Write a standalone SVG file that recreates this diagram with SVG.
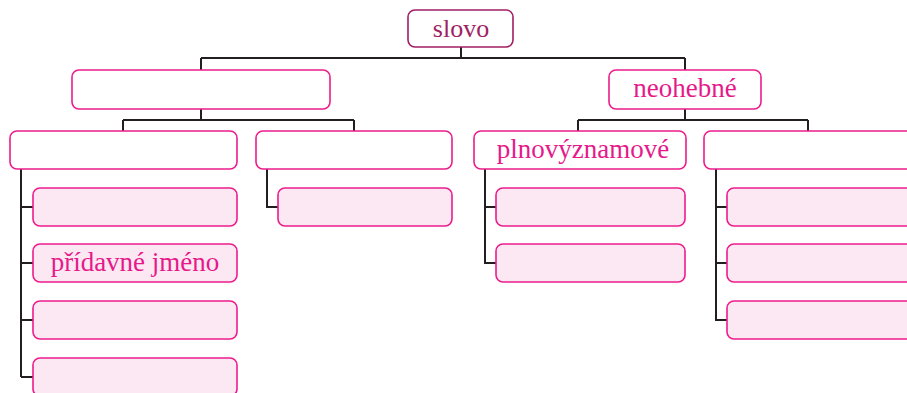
<svg xmlns="http://www.w3.org/2000/svg" width="907" height="393" viewBox="0 0 907 393">
<style>
.ln{fill:none;stroke:#231f20;stroke-width:2}
.b{fill:#fff;stroke:#ec1c8c;stroke-width:1.6}
.c{fill:#fce8f2;stroke:#ec1c8c;stroke-width:1.6}
.r{fill:#fff;stroke:#a01f63;stroke-width:1.6}
text{font-family:"Liberation Serif","Times New Roman",serif;font-size:27px;text-anchor:middle;fill:#e6198b}
</style>
<rect width="907" height="393" fill="#fff"/>
<g id="connectors">
<path class="ln" d="M461 47V58M201 58H685M201 58V70M685 58V70"/>
<path class="ln" d="M201 109V120M123 120H354M123 120V131M354 120V131"/>
<path class="ln" d="M685 109V120M578 120H808M578 120V131M808 120V131"/>
<path class="ln" d="M21 169V377M21 207H33M21 263H33M21 320H33M21 377H33"/>
<path class="ln" d="M267 169V207H278"/>
<path class="ln" d="M485 169V263H496M485 207H496"/>
<path class="ln" d="M716 169V320H727M716 207H727M716 263H727"/>
</g>
<g id="slovo"><rect class="r" x="408" y="10" width="105" height="37" rx="7"/><text x="461" y="37" style="fill:#a01f63;font-size:26px">slovo</text></g>
<g id="ohebne"><rect class="b" x="72" y="70" width="258" height="39" rx="7"/></g>
<g id="neohebne"><rect class="b" x="609" y="70" width="152" height="39" rx="7"/><text x="685" y="97">neohebné</text></g>
<g id="l1"><rect class="b" x="10" y="131" width="227" height="38" rx="7"/></g>
<g id="l2"><rect class="b" x="256" y="131" width="196" height="38" rx="7"/></g>
<g id="plnovyznamove"><rect class="b" x="474" y="131" width="212" height="38" rx="7"/><text x="583" y="158">plnovýznamové</text></g>
<g id="r2"><rect class="b" x="704" y="131" width="210" height="38" rx="7"/></g>
<g id="c1"><rect class="c" x="33" y="188" width="204" height="38" rx="7"/></g>
<g id="pridavne"><rect class="c" x="33" y="244" width="204" height="38" rx="7"/><text x="135" y="271">přídavné jméno</text></g>
<g id="c3"><rect class="c" x="33" y="301" width="204" height="38" rx="7"/></g>
<g id="c4"><rect class="c" x="33" y="358" width="204" height="38" rx="7"/></g>
<g id="c5"><rect class="c" x="278" y="188" width="174" height="38" rx="7"/></g>
<g id="c6"><rect class="c" x="496" y="188" width="189" height="38" rx="7"/></g>
<g id="c7"><rect class="c" x="496" y="244" width="189" height="38" rx="7"/></g>
<g id="c8"><rect class="c" x="727" y="188" width="190" height="38" rx="7"/></g>
<g id="c9"><rect class="c" x="727" y="244" width="190" height="38" rx="7"/></g>
<g id="c10"><rect class="c" x="727" y="301" width="190" height="38" rx="7"/></g>
</svg>
